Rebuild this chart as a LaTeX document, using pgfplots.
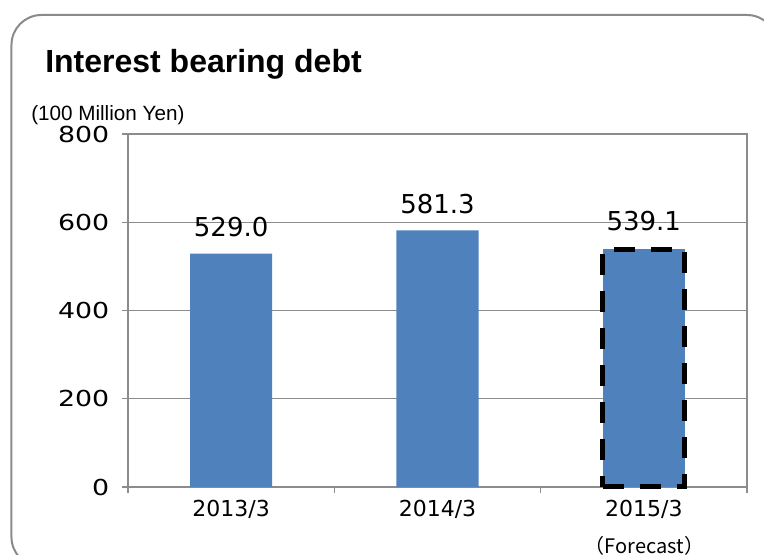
\documentclass[border=0pt]{standalone}
\usepackage{pgfplots}
\pgfplotsset{compat=1.18}
\usepackage{fontspec}
\setmainfont{Liberation Sans}
\newfontfamily\dejavu{DejaVu Sans}
\newfontfamily\dejawide[FakeStretch=1.22]{DejaVu Sans}
\newfontfamily\cjk{Noto Sans CJK JP}
\definecolor{barblue}{HTML}{4F81BD}
\definecolor{framegray}{HTML}{8A8A8A}
\definecolor{axisgray}{HTML}{8C8C8C}
\begin{document}
\begin{tikzpicture}
\useasboundingbox (0,0) rectangle (573pt,416.25pt);
\begin{scope}
\clip (0,0) rectangle (573pt,416.25pt);
\draw[framegray, line width=1.5pt, rounded corners=22.5pt] (8.6pt,-9pt) rectangle (582.75pt,405pt);
\end{scope}
\node[anchor=base west, inner sep=0pt, font=\fontsize{24}{28}\selectfont\bfseries] at (33.75pt,361.5pt) {Interest bearing debt};
\node[anchor=base west, inner sep=0pt, font=\fontsize{15.5}{18}\selectfont] at (23.25pt,325.5pt) {(100 Million Yen)};
\begin{axis}[
  at={(96pt,51pt)}, anchor=south west,
  scale only axis, width=464.25pt, height=264.75pt,
  ymin=0, ymax=800, ytick={0,200,400,600,800},
  xmin=-0.5, xmax=2.5,
  xtick={0,1,2}, xticklabels={2013/3,2014/3,2015/3},
  minor xtick={-0.5,0.5,1.5,2.5},
  xtick pos=bottom, ytick pos=left,
  tick align=outside,
  major tick length=4.5pt, minor tick length=4.5pt,
  tick style={axisgray, line width=0.8pt},
  major x tick style={draw=none},
  minor x tick style={draw=axisgray},
  ymajorgrids,
  grid style={axisgray, line width=0.8pt},
  axis line style={axisgray, line width=0.8pt},
  /pgf/number format/assume math mode=true,
  yticklabel style={font=\dejawide\fontsize{16.5}{19}\selectfont, text=black, xshift=-6pt},
  xticklabel style={font=\dejavu\fontsize{16.5}{19}\selectfont, text=black, yshift=-2pt},
  scaled y ticks=false,
  clip=false,
]
\addplot[ybar, bar width=61.5pt, bar shift=0pt, fill=barblue, draw=none,
  nodes near coords,
  nodes near coords style={font=\dejavu\fontsize{19.5}{22}\selectfont, text=black, anchor=center, inner sep=0pt, yshift=19.9pt,
    /pgf/number format/.cd, fixed, fixed zerofill, precision=1, assume math mode=true}]
  coordinates {(0,529.0) (1,581.3)};
\addplot[ybar, bar width=61.5pt, bar shift=0pt, fill=barblue, draw=black, line width=3.75pt, dash pattern=on 15.75pt off 12pt,
  nodes near coords,
  nodes near coords style={font=\dejavu\fontsize{19.5}{22}\selectfont, text=black, anchor=center, inner sep=0pt, yshift=21pt, solid,
    /pgf/number format/.cd, fixed, fixed zerofill, precision=1, assume math mode=true}]
  coordinates {(2,539.1)};
\end{axis}
\node[anchor=base, inner sep=0pt, font=\cjk\fontsize{15}{17}\selectfont] at (483.4pt,0.75pt) {（Forecast）};
\end{tikzpicture}
\end{document}
